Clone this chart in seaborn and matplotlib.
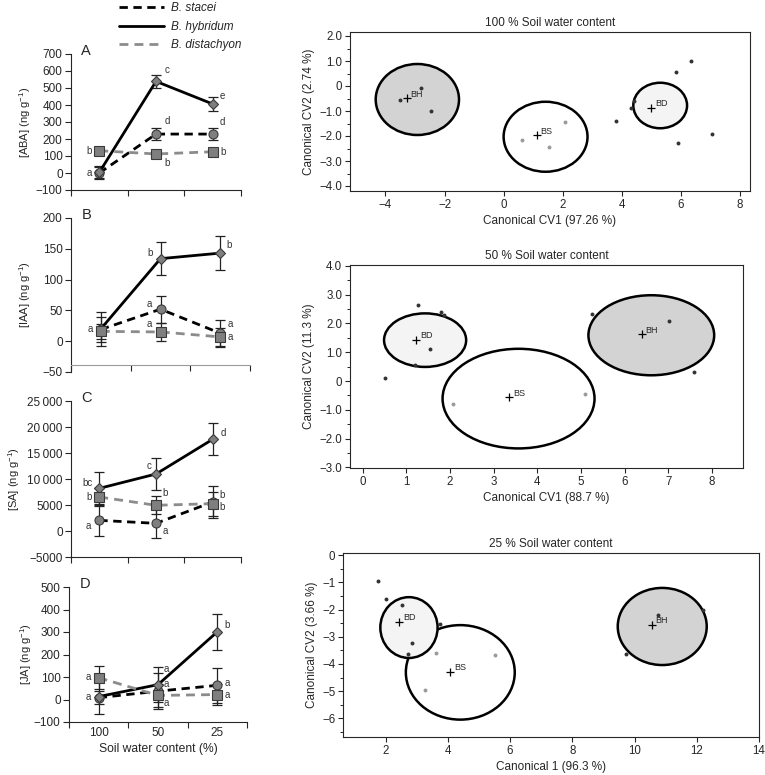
import numpy as np
import pandas as pd
import matplotlib
matplotlib.use("Agg")
import matplotlib.pyplot as plt
from matplotlib.patches import Ellipse
from matplotlib.lines import Line2D
from matplotlib.ticker import FuncFormatter, MultipleLocator
import seaborn as sns

sns.set_style("ticks")
plt.rcParams["font.family"] = ["Liberation Sans", "DejaVu Sans"]
plt.rcParams["mathtext.default"] = "regular"
plt.rcParams["axes.linewidth"] = 0.8

# ---------------- data ----------------
swc_labels = ["100", "50", "25"]
species = ["B. stacei", "B. hybridum", "B. distachyon"]

# hormone means (rows: stacei, hybridum, distachyon), error bars and letters
aba_mean = [[0, 229, 229], [4, 539, 406], [131, 112, 125]]
aba_err = [[35, 35, 35], [35, 39, 39], [18, 14, 14]]
aba_letters = [["a", "d", "d"], ["", "c", "e"], ["b", "b", "b"]]

iaa_mean = [[19, 52, 13], [20, 134, 143], [16, 15, 7]]
iaa_err = [[20, 22, 22], [27, 27, 27], [12, 15, 15]]
iaa_letters = [["a", "a", "a"], ["", "b", "b"], ["", "a", "a"]]

sa_mean = [[2050, 1470, 5580], [8200, 10960, 17630], [6540, 4940, 5260]]
sa_err = [[3000, 2900, 3000], [3100, 3150, 3100], [1700, 1740, 2300]]
sa_letters = [["a", "a", "b"], ["bc", "c", "d"], ["b", "b", "b"]]

ja_mean = [[8, 37, 63], [13, 66, 301], [97, 18, 22]]
ja_err = [[30, 80, 79], [77, 79, 79], [51, 52, 45]]
ja_letters = [["", "a", "a"], ["a", "a", "b"], ["a", "a", "a"]]

# canonical variate scores, 100 % SWC
p100_bh_x = [-3.51, -2.81, -2.45]
p100_bh_y = [-0.56, -0.07, -1.00]
p100_bs_x = [0.63, 1.53, 2.08]
p100_bs_y = [-2.15, -2.43, -1.45]
p100_bd_x = [4.42, 4.30, 3.80, 5.85, 6.33, 5.89, 7.04]
p100_bd_y = [-0.59, -0.87, -1.39, 0.56, 1.01, -2.27, -1.93]
p100_cent_x = [-3.28, 1.12, 5.00]
p100_cent_y = [-0.49, -1.96, -0.87]
p100_ell = [(-2.92, -0.54, 2.82, 2.84), (1.42, -2.03, 2.84, 2.80), (5.30, -0.78, 1.82, 1.82)]

# 50 % SWC
p50_bh_x = [5.26, 7.02, 7.58]
p50_bh_y = [2.33, 2.10, 0.30]
p50_bs_x = [2.06, 5.09]
p50_bs_y = [-0.79, -0.44]
p50_bd_x = [1.26, 1.79, 1.87, 1.54, 1.20, 0.52]
p50_bd_y = [2.63, 2.40, 2.29, 1.13, 0.55, 0.10]
p50_cent_x = [6.39, 3.35, 1.22]
p50_cent_y = [1.62, -0.56, 1.44]
p50_ell = [(6.61, 1.59, 2.88, 2.78), (3.57, -0.61, 3.48, 3.46), (1.43, 1.42, 1.88, 1.86)]

# 25 % SWC
p25_bh_x = [10.74, 9.71, 12.19]
p25_bh_y = [-2.18, -3.64, -2.02]
p25_bs_x = [3.62, 5.51, 3.26]
p25_bs_y = [-3.58, -3.66, -4.97]
p25_bd_x = [1.75, 2.00, 2.54, 3.75, 2.86, 2.72]
p25_bd_y = [-0.93, -1.62, -1.82, -2.54, -3.24, -3.63]
p25_cent_x = [10.55, 4.08, 2.43]
p25_cent_y = [-2.55, -4.29, -2.45]
p25_ell = [(10.89, -2.62, 2.86, 2.84), (4.40, -4.31, 3.50, 3.48), (2.75, -2.66, 1.84, 2.24)]

group_names = ["BH", "BS", "BD"]

# ---------------- styles ----------------
line_col = ["black", "black", "#8c8c8c"]
line_ls = [(0, (3, 2)), "-", (0, (3.2, 2.2))]
marker = ["o", "D", "s"]
msize = [6.5, 5, 6.5]

# letter offsets in pixels (dx, dy) per species per SWC
aba_off = [[(-10, 0), (11, 13), (10, 12)], [None, (11, 11), (10, 8)], [(-10, 0), (11, -9), (10, 0)]]
iaa_off = [[(-11, 0), (-11, 5), (10, 9)], [None, (-10, 6), (9, 8)], [None, (-11, 8), (10, 0)]]
sa_off = [[(-11, -6), (9, -8), (9, 7)], [(-12, 5), (-7, 8), (11, 6)], [(-10, 0), (9, 12), (9, -3)]]
ja_off = [[None, (8, 7), (10, 2)], [(-10, 0), (8, 16), (10, 7)], [(-10, 1), (8, -8), (10, 0)]]

W, H = 765, 775
fig = plt.figure(figsize=(W / 100, H / 100), dpi=100)


def px_rect(x0, x1, y0, y1):
    return [x0 / W, 1 - y1 / H, (x1 - x0) / W, (y1 - y0) / H]


def thousands(v, pos):
    s = f"{int(round(v))}"
    if abs(v) >= 10000:
        s = s[:-3] + "\u2009" + s[-3:]
    return s.replace("-", "\u2212")


pos = np.arange(len(swc_labels))

# tag, y label, data, y range, tick step, axes box (px), y label anchor (px)
left_panels = [
    ("A", "[ABA] (ng g$^{-1}$)", aba_mean, aba_err, aba_letters, aba_off, (-100, 700), 100, (71, 241, 54, 190), 33),
    ("B", "[IAA] (ng g$^{-1}$)", iaa_mean, iaa_err, iaa_letters, iaa_off, (-50, 200), 50, (71, 250, 218, 372), 33),
    ("C", "[SA] (ng g$^{-1}$)", sa_mean, sa_err, sa_letters, sa_off, (-5000, 25000), 5000, (71, 241, 401, 557), 22),
    ("D", "[JA] (ng g$^{-1}$)", ja_mean, ja_err, ja_letters, ja_off, (-100, 500), 100, (69, 247, 587, 722), 34),
]

for k, (tag, ylab, means, errs, letters, offs, ylim, step, box, ylx) in enumerate(left_panels):
    ax = fig.add_axes(px_rect(*box))
    for i in range(3):
        ax.errorbar(pos, means[i], yerr=errs[i], fmt="none", ecolor="#222222",
                    elinewidth=0.9, capsize=3.5, capthick=0.9, zorder=2)
    for i in range(3):
        df = pd.DataFrame({"pos": pos, "val": means[i]})
        sns.lineplot(data=df, x="pos", y="val", ax=ax, color=line_col[i], linestyle=line_ls[i],
                     lw=2.0, marker=marker[i], markersize=msize[i], markerfacecolor="#7f7f7f",
                     markeredgecolor="#3a3a3a", markeredgewidth=0.8, errorbar=None, zorder=3 + i * 0.1)
        for j in range(3):
            if letters[i][j] and offs[i][j] is not None:
                ax.annotate(letters[i][j], (pos[j], means[i][j]), xytext=offs[i][j],
                            textcoords="offset pixels", ha="center", va="center",
                            fontsize=7, color="#333333")
    ax.set_xlim(-0.5, 2.5)
    ax.set_ylim(*ylim)
    ax.yaxis.set_major_locator(MultipleLocator(step))
    if tag == "C":
        ax.yaxis.set_major_formatter(FuncFormatter(thousands))
    ax.set_xticks([-0.5, 0.5, 1.5, 2.5])
    ax.set_xticklabels([])
    ax.set_xticks(pos, minor=True)
    ax.tick_params(axis="x", which="minor", length=0)
    ax.tick_params(labelsize=8.5, length=4, width=0.8, pad=2)
    if tag == "D":
        ax.set_xticklabels(swc_labels, minor=True, fontsize=8.5)
        ax.set_xlabel("Soil water content (%)", fontsize=8.7, labelpad=3)
    else:
        ax.set_xlabel("")
    ax.set_ylabel(ylab, fontsize=8, labelpad=3)
    ax.yaxis.set_label_coords((ylx - box[0]) / (box[1] - box[0]), 0.5)
    sns.despine(ax=ax)
    if tag == "B":
        ax.spines["bottom"].set_position(("data", -38))
        ax.spines["bottom"].set_color("#9a9a9a")
    ax.text(0.09, 1.02, tag, transform=ax.transAxes, fontsize=10.5, ha="center", va="center")

# legend
handles = [Line2D([], [], color=line_col[i], linestyle=line_ls[i], lw=2.0) for i in range(3)]
fig.legend(handles, species, loc="upper left", bbox_to_anchor=(119 / W, 1 - 2 / H), frameon=False,
           prop={"style": "italic", "size": 8.5}, handlelength=3.8, handletextpad=0.6,
           labelspacing=0.57, borderpad=0, borderaxespad=0)

# canonical variate panels
fills = ["#d3d3d3", "white", "#f4f4f4"]
pt_col = ["#333333", "#9a9a9a", "#333333"]


def one_dec(v, pos):
    if abs(v) < 1e-9:
        return "0"
    return f"{v:.1f}".replace("-", "\u2212")


right_panels = [
    ("100 % Soil water content", "Canonical CV1 (97.26 %)", "Canonical CV2 (2.74 %)",
     [(p100_bh_x, p100_bh_y), (p100_bs_x, p100_bs_y), (p100_bd_x, p100_bd_y)],
     (p100_cent_x, p100_cent_y), p100_ell, (-5.2, 8.34), (-4.2, 2.16), 2, 1.0, True,
     px_rect(350, 750, 32, 191)),
    ("50 % Soil water content", "Canonical CV1 (88.7 %)", "Canonical CV2 (11.3 %)",
     [(p50_bh_x, p50_bh_y), (p50_bs_x, p50_bs_y), (p50_bd_x, p50_bd_y)],
     (p50_cent_x, p50_cent_y), p50_ell, (-0.29, 8.71), (-3.02, 4.03), 1, 1.0, True,
     px_rect(350, 743, 265, 468)),
    ("25 % Soil water content", "Canonical 1 (96.3 %)", "Canonical CV2 (3.66 %)",
     [(p25_bh_x, p25_bh_y), (p25_bs_x, p25_bs_y), (p25_bd_x, p25_bd_y)],
     (p25_cent_x, p25_cent_y), p25_ell, (0.63, 14.0), (-6.69, 0.086), 2, 1.0, False,
     px_rect(343, 759, 553, 737)),
]

for title, xl, yl, groups, cents, ells, xlim, ylim, xstep, ystep, dec, rect in right_panels:
    ax = fig.add_axes(rect)
    for g, (cx, cy, w, h) in enumerate(ells):
        ax.add_patch(Ellipse((cx, cy), w, h, facecolor=fills[g], edgecolor="black", lw=1.8, zorder=1))
    for g, (gx, gy) in enumerate(groups):
        sns.scatterplot(x=gx, y=gy, ax=ax, color=pt_col[g], s=8, linewidth=0, zorder=3)
    sns.scatterplot(x=cents[0], y=cents[1], ax=ax, marker="+", color="black", s=32,
                    linewidth=0.9, zorder=4)
    for g in range(3):
        ax.annotate(group_names[g], (cents[0][g], cents[1][g]), xytext=(4, 4),
                    textcoords="offset pixels", ha="left", va="center", fontsize=6.5, zorder=5)
    ax.set_xlim(*xlim)
    ax.set_ylim(*ylim)
    ax.xaxis.set_major_locator(MultipleLocator(xstep))
    ax.yaxis.set_major_locator(MultipleLocator(ystep))
    ax.yaxis.set_minor_locator(MultipleLocator(ystep / 2))
    if dec:
        ax.yaxis.set_major_formatter(FuncFormatter(one_dec))
    ax.tick_params(labelsize=8.3, length=3.5, width=0.8, pad=2)
    ax.tick_params(which="minor", length=2, width=0.7)
    ax.set_title(title, fontsize=8.5, pad=4)
    ax.set_xlabel(xl, fontsize=8.5, labelpad=3)
    ax.set_ylabel(yl, fontsize=8.5, labelpad=3)
    for s in ax.spines.values():
        s.set_linewidth(0.8)

fig.savefig("out.png", dpi=100)
